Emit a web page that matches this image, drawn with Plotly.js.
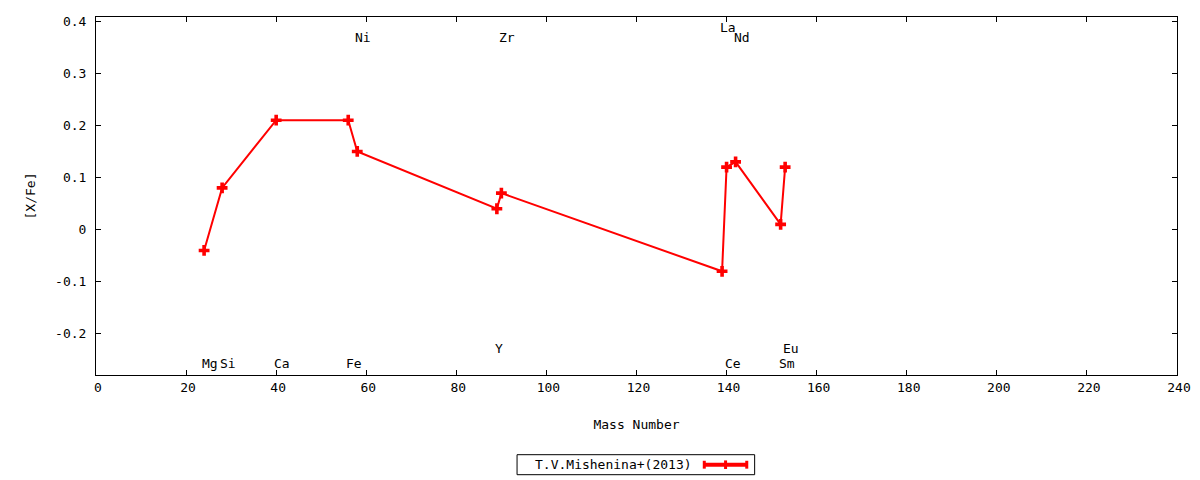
<!DOCTYPE html>
<html>
<head>
<meta charset="utf-8">
<script src="https://cdn.plot.ly/plotly-3.0.1.min.js"></script>
<style>
  body { margin: 0; background: #fff; }
  #plot { width: 1200px; height: 480px; }
</style>
</head>
<body>
<div id="plot"></div>
<script>
// element, mass number and [X/Fe] (T.V.Mishenina+ 2013)
var elements = ["Mg", "Si", "Ca", "Fe", "Ni", "Y", "Zr", "La", "Ce", "Nd", "Sm", "Eu"];
var massNumbers = [24, 28, 40, 56, 58, 89, 90, 139, 140, 142, 152, 153];
var xFe = [-0.04, 0.08, 0.21, 0.21, 0.15, 0.04, 0.07, -0.08, 0.12, 0.13, 0.01, 0.12];

// where each element name is written
var labelY = [-0.256, -0.256, -0.256, -0.256, 0.368, -0.229, 0.368, 0.388, -0.256, 0.368, -0.256, -0.229];

// y tick labels (gnuplot style, plain hyphen)
var yTickVals = [-0.2, -0.1, 0, 0.1, 0.2, 0.3, 0.4];
var yTickText = ["-0.2", "-0.1", "0", "0.1", "0.2", "0.3", "0.4"];

var seriesName = "T.V.Mishenina+(2013)";
var red = "#ff0000";
var font = "DejaVu Sans Mono";

var trace1 = {
    x: massNumbers,
    y: xFe,
    name: seriesName,
    type: "scatter",
    mode: "lines+markers",
    line: {color: red, width: 2},
    marker: {symbol: "cross", size: 9, color: red},
    showlegend: false
};

// element names next to the points
var annotations = elements.map(function (el, i) {
    return {
        x: massNumbers[i],
        y: labelY[i],
        xref: "x",
        yref: "y",
        text: el,
        showarrow: false,
        xanchor: "left",
        yanchor: "middle",
        xshift: -4,
        font: {family: font, size: 13, color: "#000"}
    };
});

// key text, gnuplot puts the sample on the right
annotations.push({
    x: 0.5532,
    y: -0.2506,
    xref: "paper",
    yref: "paper",
    text: seriesName,
    showarrow: false,
    xanchor: "right",
    yanchor: "middle",
    font: {family: font, size: 13, color: "#000"}
});

// key box and line sample
var shapes = [
    {type: "rect", xref: "paper", yref: "paper", x0: 0.3895, x1: 0.6093, y0: -0.2785, y1: -0.2226,
     line: {color: "#000", width: 1}},
    {type: "line", xref: "paper", yref: "paper", x0: 0.5624, x1: 0.6023, y0: -0.2506, y1: -0.2506,
     line: {color: red, width: 4}},
    {type: "line", xref: "paper", yref: "paper", x0: 0.5627, x1: 0.5627, y0: -0.2396, y1: -0.2616,
     line: {color: red, width: 3}},
    {type: "line", xref: "paper", yref: "paper", x0: 0.6020, x1: 0.6020, y0: -0.2396, y1: -0.2616,
     line: {color: red, width: 3}},
    {type: "line", xref: "paper", yref: "paper", x0: 0.5824, x1: 0.5824, y0: -0.2386, y1: -0.2626,
     line: {color: red, width: 3}}
];

var layout = {
    width: 1200,
    height: 480,
    margin: {l: 96, r: 23, t: 17, b: 105},
    paper_bgcolor: "#fff",
    plot_bgcolor: "#fff",
    font: {family: font, size: 13, color: "#000"},
    showlegend: false,
    xaxis: {
        range: [0, 240],
        dtick: 20,
        tick0: 0,
        ticks: "inside",
        ticklen: 5,
        tickcolor: "#000",
        ticklabelshift: 2,
        showline: true,
        linecolor: "#000",
        linewidth: 1,
        mirror: "ticks",
        showgrid: false,
        zeroline: false,
        title: {text: "Mass Number", standoff: 26, font: {family: font, size: 13}}
    },
    yaxis: {
        range: [-0.279, 0.408],
        tickvals: yTickVals,
        ticktext: yTickText,
        ticks: "inside",
        ticklen: 5,
        tickcolor: "#000",
        showline: true,
        linecolor: "#000",
        linewidth: 1,
        mirror: "ticks",
        showgrid: false,
        zeroline: false,
        ticklabelstandoff: 6,
        title: {text: "[X/Fe]", standoff: 16, font: {family: font, size: 13}}
    },
    annotations: annotations,
    shapes: shapes
};

Plotly.newPlot("plot", [trace1], layout, {staticPlot: true});
</script>
</body>
</html>
